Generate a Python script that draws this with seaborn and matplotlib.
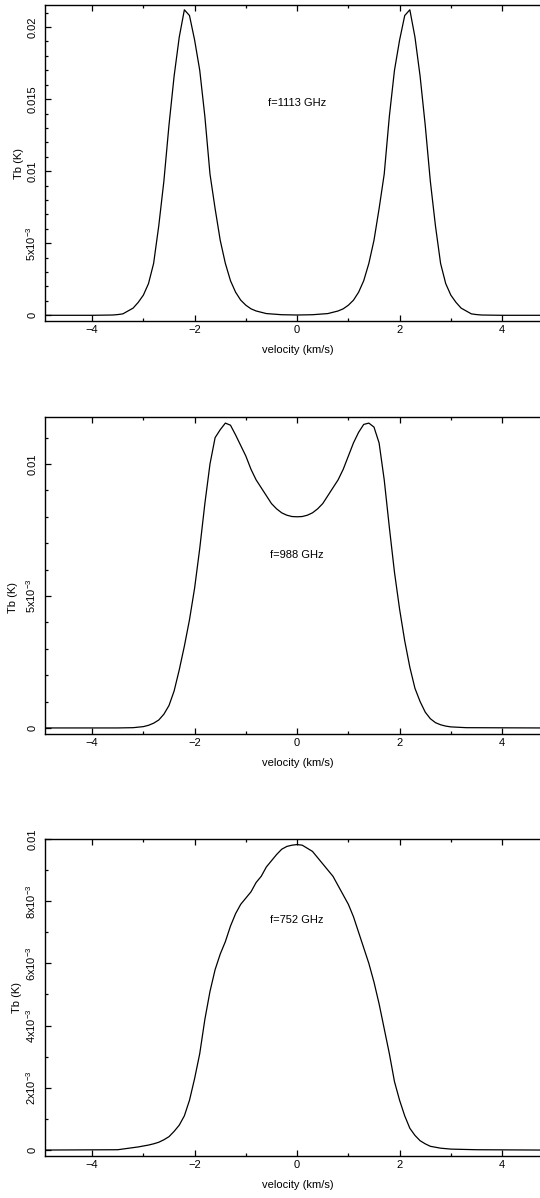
import numpy as np
import pandas as pd
import seaborn as sns
from matplotlib import pyplot as plt
from matplotlib.ticker import MultipleLocator

# velocity axis (km/s) and brightness temperature (K) for each line
v_1113 = [-4.92, -4.0, -3.6, -3.5, -3.4, -3.3, -3.2, -3.1, -3.0, -2.9, -2.8, -2.7, -2.6, -2.5,
          -2.4, -2.3, -2.2, -2.1, -2.0, -1.9, -1.8, -1.7, -1.6, -1.5, -1.4, -1.3, -1.2, -1.1,
          -1.0, -0.9, -0.8, -0.6, -0.3, 0.0, 0.3, 0.6, 0.8, 0.9, 1.0, 1.1, 1.2, 1.3, 1.4, 1.5,
          1.6, 1.7, 1.8, 1.9, 2.0, 2.1, 2.2, 2.3, 2.4, 2.5, 2.6, 2.7, 2.8, 2.9, 3.0, 3.1, 3.2,
          3.3, 3.4, 3.5, 3.6, 4.0, 4.74]
tb_1113 = [0.0, 0.0, 0.00002, 0.00005, 0.0001, 0.0003, 0.0005, 0.0009, 0.0014, 0.0022, 0.0036,
           0.0062, 0.0093, 0.0132, 0.0166, 0.0193, 0.0212, 0.0208, 0.0191, 0.0170, 0.0138,
           0.0098, 0.0074, 0.0052, 0.0036, 0.0024, 0.0016, 0.00105, 0.0007, 0.00045, 0.0003,
           0.00012, 0.00004, 0.00002, 0.00004, 0.00012, 0.0003, 0.00045, 0.0007, 0.00105,
           0.0016, 0.0024, 0.0036, 0.0052, 0.0074, 0.0098, 0.0138, 0.0170, 0.0191, 0.0208,
           0.0212, 0.0193, 0.0166, 0.0132, 0.0093, 0.0062, 0.0036, 0.0022, 0.0014, 0.0009,
           0.0005, 0.0003, 0.0001, 0.00005, 0.00002, 0.0, 0.0]

v_988 = [-4.92, -3.5, -3.2, -3.0, -2.9, -2.8, -2.7, -2.6, -2.5, -2.4, -2.3, -2.2, -2.1, -2.0,
         -1.9, -1.8, -1.7, -1.6, -1.5, -1.4, -1.3, -1.2, -1.1, -1.0, -0.9, -0.8, -0.7, -0.6,
         -0.5, -0.4, -0.3, -0.2, -0.1, 0.0, 0.1, 0.2, 0.3, 0.4, 0.5, 0.6, 0.7, 0.8, 0.9, 1.0,
         1.1, 1.2, 1.3, 1.4, 1.5, 1.6, 1.7, 1.8, 1.9, 2.0, 2.1, 2.2, 2.3, 2.4, 2.5, 2.6, 2.7,
         2.8, 2.9, 3.0, 3.3, 4.74]
tb_988 = [0.0, 0.0, 0.00001, 0.00005, 0.0001, 0.00018, 0.0003, 0.00052, 0.00085, 0.0014,
          0.0022, 0.0031, 0.0041, 0.0053, 0.0068, 0.0085, 0.0100, 0.0110, 0.0113, 0.01155,
          0.01147, 0.0111, 0.0107, 0.0103, 0.0098, 0.0094, 0.0091, 0.0088, 0.0085, 0.0083,
          0.00815, 0.00806, 0.00801, 0.0080, 0.00801, 0.00806, 0.00815, 0.0083, 0.0085,
          0.0088, 0.0091, 0.0094, 0.0098, 0.0103, 0.0108, 0.0112, 0.0115, 0.01155, 0.0114,
          0.0108, 0.0094, 0.0076, 0.0059, 0.0045, 0.0033, 0.0023, 0.0015, 0.0010, 0.0006,
          0.00035, 0.0002, 0.00012, 0.00007, 0.00004, 0.00001, 0.0]

v_752 = [-4.92, -3.5, -3.1, -3.0, -2.9, -2.8, -2.7, -2.6, -2.5, -2.4, -2.3, -2.2, -2.1, -2.0,
         -1.9, -1.8, -1.7, -1.6, -1.5, -1.4, -1.3, -1.2, -1.1, -1.0, -0.9, -0.8, -0.7, -0.6,
         -0.5, -0.4, -0.3, -0.2, -0.1, 0.0, 0.1, 0.2, 0.3, 0.4, 0.5, 0.6, 0.7, 0.8, 0.9, 1.0,
         1.1, 1.2, 1.3, 1.4, 1.5, 1.6, 1.7, 1.8, 1.9, 2.0, 2.1, 2.2, 2.3, 2.4, 2.5, 2.6, 2.8,
         3.0, 3.5, 4.74]
tb_752 = [0.0, 0.00001, 0.0001, 0.00013, 0.00016, 0.0002, 0.00025, 0.00033, 0.00043, 0.0006,
          0.0008, 0.0011, 0.0016, 0.0023, 0.0031, 0.0042, 0.0051, 0.0058, 0.0063, 0.0067,
          0.0072, 0.0076, 0.0079, 0.0081, 0.0083, 0.0086, 0.0088, 0.0091, 0.0093, 0.0095,
          0.00967, 0.00976, 0.0098, 0.00982, 0.0098, 0.0097, 0.0096, 0.0094, 0.0092, 0.0090,
          0.0088, 0.0085, 0.0082, 0.0079, 0.0075, 0.0070, 0.0065, 0.0060, 0.0054, 0.0047,
          0.0039, 0.0031, 0.0022, 0.0016, 0.0011, 0.0007, 0.00047, 0.0003, 0.0002, 0.00012,
          0.00006, 0.00003, 0.00001, 0.0]

freq_labels = ['f=1113 GHz', 'f=988 GHz', 'f=752 GHz']
text_pos = [(0.0, 0.0147), (0.0, 0.00655), (0.0, 0.0074)]
ylims = [(-0.0004, 0.02153), (-0.00023, 0.01178), (-0.00019, 0.01)]
yticks = [[0, 0.005, 0.01, 0.015, 0.02],
          [0, 0.005, 0.01],
          [0, 0.002, 0.004, 0.006, 0.008, 0.01]]
yticklabels = [['0', r'$\mathregular{5x10^{-3}}$', '0.01', '0.015', '0.02'],
               ['0', r'$\mathregular{5x10^{-3}}$', '0.01'],
               ['0', r'$\mathregular{2x10^{-3}}$', r'$\mathregular{4x10^{-3}}$',
                r'$\mathregular{6x10^{-3}}$', r'$\mathregular{8x10^{-3}}$', '0.01']]
xticks = [-4, -2, 0, 2, 4]

sns.set_style('ticks')
plt.rcParams['font.family'] = ['Liberation Sans', 'DejaVu Sans']
plt.rcParams['mathtext.fontset'] = 'custom'
plt.rcParams['mathtext.rm'] = 'Liberation Sans'
plt.rcParams['font.size'] = 8
plt.rcParams['text.color'] = 'black'
plt.rcParams['axes.labelcolor'] = 'black'
plt.rcParams['xtick.color'] = 'black'
plt.rcParams['ytick.color'] = 'black'

fig = plt.figure(figsize=(5.4, 11.98), dpi=100)
# axes boxes [left, bottom, width, height] in figure fraction
boxes = [[0.0833, 0.7320, 0.9167, 0.2638],
         [0.0833, 0.3873, 0.9167, 0.2646],
         [0.0833, 0.0351, 0.9167, 0.2646]]
label_xy = [(-0.042, 0.5), (-0.054, 0.43), (-0.046, 0.5)]

series = [(v_1113, tb_1113), (v_988, tb_988), (v_752, tb_752)]

for i, (v, tb) in enumerate(series):
    ax = fig.add_axes(boxes[i])
    df = pd.DataFrame({'velocity': v, 'Tb': tb})
    sns.lineplot(data=df, x='velocity', y='Tb', ax=ax, color='black', linewidth=0.9,
                 estimator=None, sort=True)

    ax.set_xlim(-4.92, 4.74)
    ax.set_ylim(*ylims[i])
    ax.set_xticks(xticks)
    ax.set_xticklabels(['\u22124', '\u22122', '0', '2', '4'])
    ax.xaxis.set_minor_locator(MultipleLocator(1))
    ax.yaxis.set_minor_locator(MultipleLocator(0.001))
    ax.set_yticks(yticks[i])
    ax.set_yticklabels(yticklabels[i], rotation=90, va='center')

    ax.tick_params(which='both', direction='in', top=True, right=False, color='black',
                   width=0.9)
    ax.tick_params(which='major', length=4, pad=3)
    ax.tick_params(which='minor', length=2.5)
    ax.tick_params(axis='y', pad=5)
    for side in ['left', 'top', 'bottom']:
        ax.spines[side].set_linewidth(1.0)
        ax.spines[side].set_color('black')
    ax.spines['right'].set_visible(False)

    ax.set_xlabel('velocity (km/s)')
    ax.set_ylabel('Tb (K)')
    ax.xaxis.set_label_coords(0.51, -0.075)
    ax.yaxis.set_label_coords(*label_xy[i])

    ax.text(text_pos[i][0], text_pos[i][1], freq_labels[i], ha='center', va='center',
            fontsize=8)

fig.savefig('out.png', dpi=100)
